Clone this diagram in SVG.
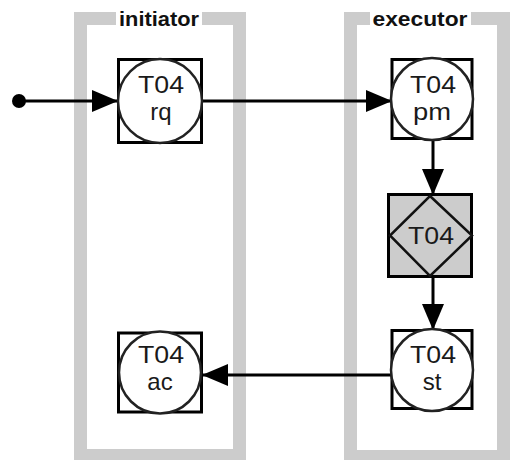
<svg xmlns="http://www.w3.org/2000/svg" width="512" height="460" viewBox="0 0 512 460">
<style>
.lane{fill:none;stroke:#cccccc;stroke-width:13}
.lbl{font-family:"Liberation Sans",Arial,sans-serif;font-size:20px;font-weight:bold;fill:#111;text-anchor:middle}
.box{fill:#fff;stroke:#000;stroke-width:3}
.boxg{fill:#cccccc;stroke:#000;stroke-width:3}
.circ{fill:#fff;stroke:#222;stroke-width:2.5}
.dia{fill:#cccccc;stroke:#111;stroke-width:2.5}
.t{font-family:"Liberation Sans",Arial,sans-serif;font-size:24px;fill:#1a1a1a;text-anchor:middle}
.conn{fill:none;stroke:#000;stroke-width:3}
</style>
<defs>
<marker id="arr" markerUnits="userSpaceOnUse" markerWidth="26" markerHeight="22" refX="26" refY="11" orient="auto">
<path d="M0,0 L26,11 L0,22 z" fill="#000"/>
</marker>
</defs>
<g id="lane-initiator">
<rect class="lane" x="80.5" y="18.5" width="159" height="437"/>
<rect x="116" y="6" width="86" height="24" fill="#fff"/>
<text class="lbl" x="159" y="26" textLength="80" lengthAdjust="spacingAndGlyphs">initiator</text>
</g>
<g id="lane-executor">
<rect class="lane" x="350.5" y="18.5" width="153" height="438"/>
<rect x="370" y="6" width="101" height="24" fill="#fff"/>
<text class="lbl" x="420" y="26" textLength="95" lengthAdjust="spacingAndGlyphs">executor</text>
</g>
<g id="connectors">
<circle cx="19" cy="101" r="7" fill="#000"/>
<line class="conn" x1="19" y1="101" x2="118" y2="101" marker-end="url(#arr)"/>
<line class="conn" x1="202" y1="101" x2="392" y2="101" marker-end="url(#arr)"/>
<line class="conn" x1="433" y1="138" x2="433" y2="195" marker-end="url(#arr)"/>
<line class="conn" x1="433" y1="277" x2="433" y2="330" marker-end="url(#arr)"/>
<line class="conn" x1="392" y1="375" x2="202" y2="375" marker-end="url(#arr)"/>
</g>
<g id="T04rq">
<rect class="box" x="118.5" y="59.5" width="83" height="83"/>
<circle class="circ" cx="160" cy="101" r="42"/>
<text class="t" x="161" y="93" textLength="46" lengthAdjust="spacingAndGlyphs">T04</text>
<text class="t" x="161" y="120">rq</text>
</g>
<g id="T04pm">
<rect class="box" x="392" y="59.5" width="80" height="79"/>
<circle class="circ" cx="432" cy="99" r="41"/>
<text class="t" x="433" y="93" textLength="46" lengthAdjust="spacingAndGlyphs">T04</text>
<text class="t" x="432" y="120" textLength="38" lengthAdjust="spacingAndGlyphs">pm</text>
</g>
<g id="T04ex">
<rect class="boxg" x="388.5" y="194.5" width="83" height="82"/>
<polygon class="dia" points="430,196 472,235.5 430,276 390,235.5"/>
<text class="t" x="431" y="244" textLength="46" lengthAdjust="spacingAndGlyphs">T04</text>
</g>
<g id="T04st">
<rect class="box" x="392" y="330.5" width="80" height="78"/>
<circle class="circ" cx="432" cy="370" r="41"/>
<text class="t" x="433" y="363" textLength="46" lengthAdjust="spacingAndGlyphs">T04</text>
<text class="t" x="432" y="390">st</text>
</g>
<g id="T04ac">
<rect class="box" x="118.5" y="333" width="83" height="79"/>
<circle class="circ" cx="160" cy="372.5" r="41"/>
<text class="t" x="161" y="363" textLength="46" lengthAdjust="spacingAndGlyphs">T04</text>
<text class="t" x="160" y="390">ac</text>
</g>
</svg>
